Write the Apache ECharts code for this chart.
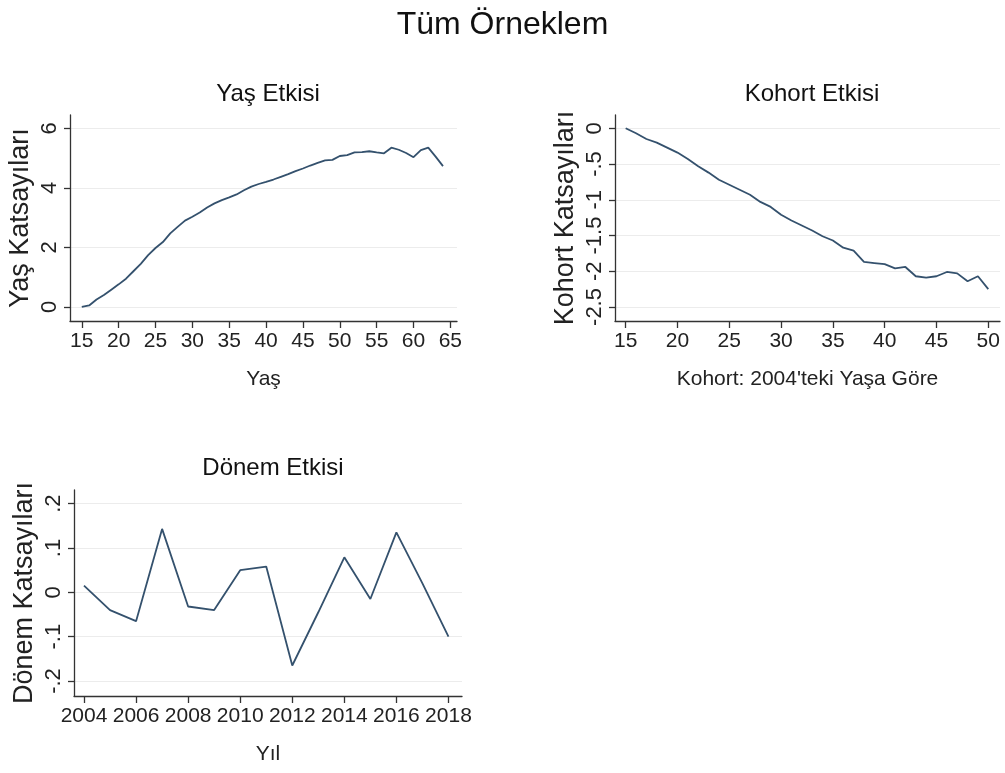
<!DOCTYPE html>
<html>
<head>
<meta charset="utf-8">
<script src="https://cdn.jsdelivr.net/npm/echarts@6/dist/echarts.min.js"></script>
<style>
html,body{margin:0;padding:0;background:#fff;}
#c{width:1005px;height:773px;}
</style>
</head>
<body>
<div id="c"></div>
<script>
// Yaş Etkisi
const ageX = [15,16,17,18,19,20,21,22,23,24,25,26,27,28,29,30,31,32,33,34,35,36,37,38,39,40,41,42,43,44,45,46,47,48,49,50,51,52,53,54,55,56,57,58,59,60,61,62,63,64];
const ageY = [0.0,0.05,0.25,0.4,0.58,0.76,0.95,1.2,1.45,1.74,1.98,2.18,2.47,2.69,2.9,3.03,3.17,3.34,3.48,3.59,3.68,3.78,3.92,4.04,4.13,4.2,4.28,4.37,4.46,4.56,4.65,4.75,4.84,4.92,4.94,5.07,5.1,5.19,5.2,5.23,5.19,5.16,5.35,5.28,5.17,5.03,5.27,5.35,5.05,4.73];
const ageXTicks = [15,20,25,30,35,40,45,50,55,60,65];
const ageYTicks = [0,2,4,6];

// Kohort Etkisi
const cohX = [15,16,17,18,19,20,21,22,23,24,25,26,27,28,29,30,31,32,33,34,35,36,37,38,39,40,41,42,43,44,45,46,47,48,49,50];
const cohY = [0,-0.07,-0.15,-0.2,-0.27,-0.34,-0.43,-0.53,-0.62,-0.72,-0.79,-0.86,-0.93,-1.03,-1.1,-1.21,-1.29,-1.36,-1.43,-1.51,-1.57,-1.67,-1.71,-1.87,-1.885,-1.9,-1.96,-1.94,-2.07,-2.09,-2.07,-2.01,-2.03,-2.14,-2.07,-2.25];
const cohXTicks = [15,20,25,30,35,40,45,50];
const cohYTicks = [-2.5,-2,-1.5,-1,-0.5,0];

// Dönem Etkisi
const perX = [2004,2005,2006,2007,2008,2009,2010,2011,2012,2013,2014,2015,2016,2017,2018];
const perY = [0.015,-0.04,-0.065,0.143,-0.032,-0.04,0.05,0.058,-0.165,-0.045,0.079,-0.015,0.135,0.02,-0.1];
const perXTicks = [2004,2006,2008,2010,2012,2014,2016,2018];
const perYTicks = [-0.2,-0.1,0,0.1,0.2];

const FONT = '"Liberation Sans", Arial, sans-serif';
const LINE = '#34516d';
const AX = '#333';

function fmtDot(v){
  // Stata style: .5, -.5, .1
  let s = String(Math.round(v*1000)/1000);
  s = s.replace(/^0\./,'.').replace(/^-0\./,'-.');
  return s;
}
function fmtPlain(v){ return String(Math.round(v*1000)/1000); }

function xAxis(idx, min, max, ticks, name){
  return {
    type:'value', gridIndex:idx, min:min, max:max,
    name:name, nameLocation:'middle', nameGap:48,
    nameTextStyle:{fontFamily:FONT, fontSize:21, color:'#222'},
    axisLine:{show:true, onZero:false, lineStyle:{color:AX, width:1.3}},
    axisTick:{show:true, length:7, customValues:ticks, lineStyle:{color:AX, width:1.3}},
    axisLabel:{show:true, customValues:ticks, showMinLabel:true, showMaxLabel:true, hideOverlap:false,
      margin:10, fontFamily:FONT, fontSize:21, color:'#222', formatter:fmtPlain},
    splitLine:{show:false}
  };
}
function yAxis(idx, min, max, ticks, name, fmt){
  return {
    type:'value', gridIndex:idx, min:min, max:max,
    name:name, nameLocation:'middle', nameGap:36,
    nameTextStyle:{fontFamily:FONT, fontSize:27, color:'#222'},
    axisLine:{show:true, onZero:false, lineStyle:{color:AX, width:1.3}},
    axisTick:{show:true, length:6, customValues:ticks, lineStyle:{color:AX, width:1.3}},
    axisLabel:{show:true, customValues:ticks, showMinLabel:true, showMaxLabel:true, hideOverlap:false,
      rotate:90, margin:9, fontFamily:FONT, fontSize:22, color:'#222', formatter:fmt},
    splitLine:{show:true, lineStyle:{color:'#ececec', width:1.2}}
  };
}

const chart = echarts.init(document.getElementById('c'), null, {renderer:'canvas'});
chart.setOption({
  animation:false,
  backgroundColor:'#fff',
  title:[
    {text:'Tüm Örneklem', left:'center', top:4, textStyle:{fontFamily:FONT, fontSize:32, fontWeight:'normal', color:'#111'}},
    {text:'Yaş Etkisi', left:263, textAlign:'center', top:77, textStyle:{fontFamily:FONT, fontSize:24, fontWeight:'normal', color:'#111'}},
    {text:'Kohort Etkisi', left:807, textAlign:'center', top:77, textStyle:{fontFamily:FONT, fontSize:24, fontWeight:'normal', color:'#111'}},
    {text:'Dönem Etkisi', left:268, textAlign:'center', top:451, textStyle:{fontFamily:FONT, fontSize:24, fontWeight:'normal', color:'#111'}}
  ],
  grid:[
    {left:70, top:115, width:387, height:206},
    {left:615, top:115, width:385, height:206},
    {left:74, top:490, width:388, height:206}
  ],
  xAxis:[
    xAxis(0, 13.4, 65.9, ageXTicks, 'Yaş'),
    xAxis(1, 13.97, 51.13, cohXTicks, "Kohort: 2004'teki Yaşa Göre"),
    xAxis(2, 2003.616, 2018.52, perXTicks, 'Yıl')
  ],
  yAxis:[
    yAxis(0, -0.471, 6.447, ageYTicks, 'Yaş Katsayıları', fmtPlain),
    yAxis(1, -2.696, 0.186, cohYTicks, 'Kohort Katsayıları', fmtDot),
    yAxis(2, -0.2338, 0.2307, perYTicks, 'Dönem Katsayıları', fmtDot)
  ],
  series:[
    {type:'line', xAxisIndex:0, yAxisIndex:0, data:ageX.map((x,i)=>[x,ageY[i]]), showSymbol:false, lineStyle:{color:LINE, width:1.8}},
    {type:'line', xAxisIndex:1, yAxisIndex:1, data:cohX.map((x,i)=>[x,cohY[i]]), showSymbol:false, lineStyle:{color:LINE, width:1.8}},
    {type:'line', xAxisIndex:2, yAxisIndex:2, data:perX.map((x,i)=>[x,perY[i]]), showSymbol:false, lineStyle:{color:LINE, width:1.8}}
  ]
});
</script>
</body>
</html>
